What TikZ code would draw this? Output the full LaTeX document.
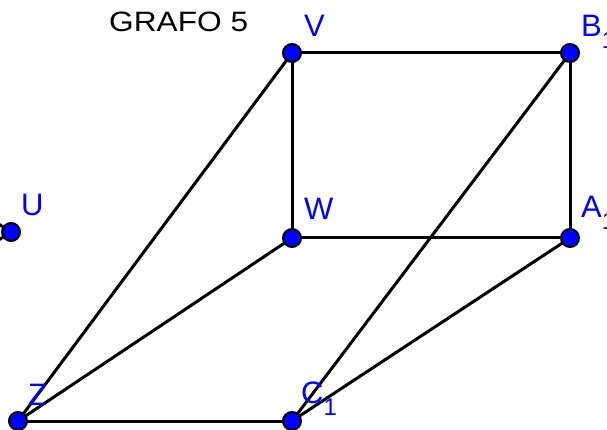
\documentclass[tikz,border=0pt]{standalone}
\usepackage{fontspec}
\setmainfont{Liberation Sans}
\begin{document}
\begin{tikzpicture}[x=1pt,y=-1pt,
  vert/.style={circle,fill={rgb,255:red,0;green,0;blue,255},draw=black,line width=2pt,minimum size=18pt,inner sep=0pt},
  edge/.style={line width=3pt,black},
  lbl/.style={text={rgb,255:red,0;green,0;blue,255},font=\fontsize{31}{31}\selectfont,inner sep=0pt,anchor=base west}]
\useasboundingbox (0,0) rectangle (607,430);
\clip (0,0) rectangle (607,430);
\coordinate (V) at (292,53);
\coordinate (B) at (570,53);
\coordinate (W) at (292,238);
\coordinate (A) at (570,238);
\coordinate (U) at (11,232);
\coordinate (Z) at (18,421);
\coordinate (C) at (292,421);
\coordinate (ul) at (-6,221);
\coordinate (dl) at (-6,243);
\draw[edge] (V) -- (B);
\draw[edge] (V) -- (W);
\draw[edge] (V) -- (Z);
\draw[edge] (B) -- (A);
\draw[edge] (B) -- (C);
\draw[edge] (W) -- (A);
\draw[edge] (W) -- (Z);
\draw[edge] (A) -- (C);
\draw[edge] (Z) -- (C);
\draw[edge] (U) -- (ul);
\draw[edge] (U) -- (dl);
\foreach \n in {V,B,W,A,U,Z,C} \node[vert] (n\n) at (\n) {};
\node[font=\fontsize{28}{28}\selectfont,xscale=1.13,inner sep=0pt,anchor=base west] (title) at (109,32) {GRAFO 5};
\node[lbl] (lV) at (304,37) {V};
\node[lbl] (lB) at (581,37) {B\raisebox{-12pt}{\fontsize{24}{24}\selectfont 1}};
\node[lbl] (lW) at (304,220) {W};
\node[lbl] (lA) at (581,218) {A\raisebox{-12pt}{\fontsize{24}{24}\selectfont 1}};
\node[lbl] (lU) at (21,215) {U};
\node[lbl] (lZ) at (28,405) {Z};
\node[lbl] (lC) at (301,403) {C\raisebox{-12pt}{\fontsize{24}{24}\selectfont 1}};
\end{tikzpicture}
\end{document}
